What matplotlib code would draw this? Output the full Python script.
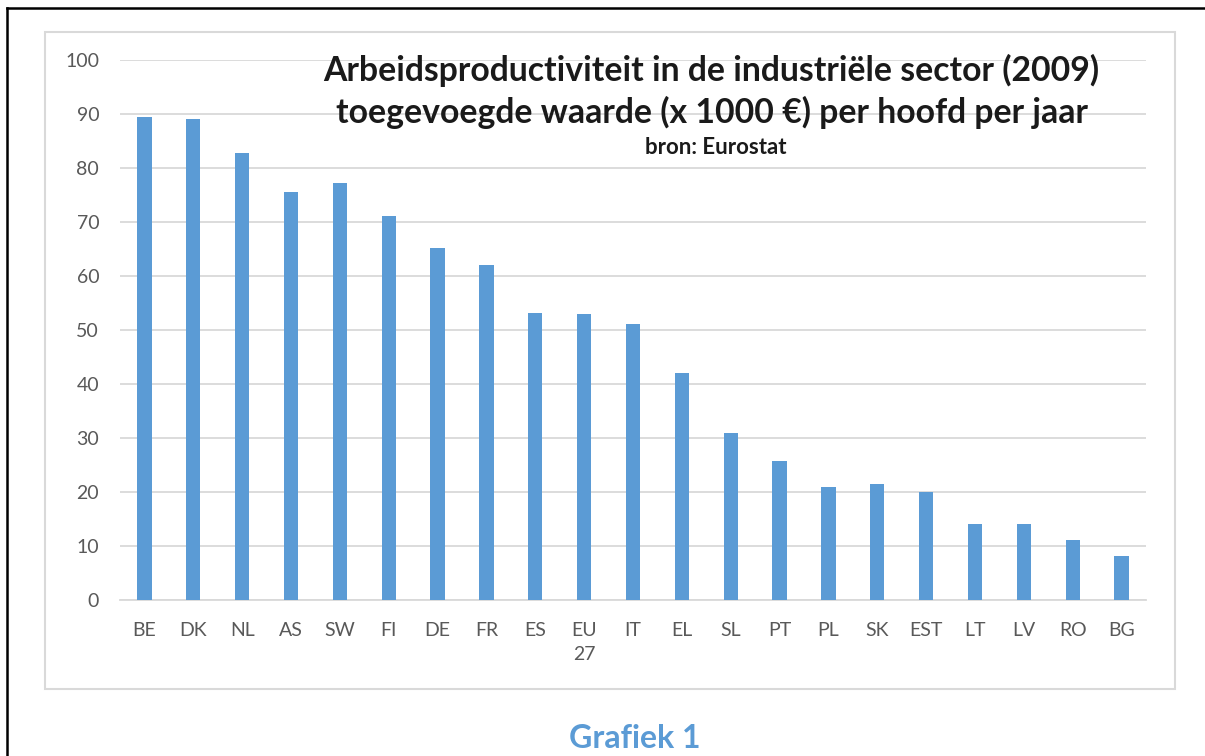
import matplotlib
matplotlib.use("Agg")
import matplotlib.pyplot as plt
from matplotlib.patches import Rectangle

countries = ["BE", "DK", "NL", "AS", "SW", "FI", "DE", "FR", "ES", "EU\n27", "IT",
             "EL", "SL", "PT", "PL", "SK", "EST", "LT", "LV", "RO", "BG"]
values = [89.4, 89.1, 82.8, 75.6, 77.2, 71.1, 65.2, 62.0, 53.1, 53.0, 51.1,
          42.0, 30.9, 25.7, 20.9, 21.5, 20.0, 14.0, 14.0, 11.1, 8.1]
yticks = [0, 10, 20, 30, 40, 50, 60, 70, 80, 90, 100]

title1 = "Arbeidsproductiviteit in de industriële sector (2009)"
title2 = "toegevoegde waarde (x 1000 €) per hoofd per jaar"
subtitle = "bron: Eurostat"
caption = "Grafiek 1"

W, H = 1205, 756
FONT = "Lato"
plt.rcParams["font.family"] = [FONT, "DejaVu Sans"]

fig = plt.figure(figsize=(W / 100, H / 100), dpi=100)
fig.patch.set_facecolor("white")

def fx(px):
    return px / W

def fy(py):
    return 1 - py / H

# outer black border (left and top visible)
fig.add_artist(plt.Line2D([fx(7), fx(7)], [fy(8), 0], color="black", lw=1.8,
                          transform=fig.transFigure))
fig.add_artist(plt.Line2D([fx(7), 1], [fy(8), fy(8)], color="black", lw=1.8,
                          transform=fig.transFigure))

# chart frame
fig.add_artist(Rectangle((fx(45), fy(689)), fx(1175) - fx(45), fy(32) - fy(689),
                         transform=fig.transFigure, fill=False,
                         edgecolor="#d9d9d9", lw=1.5))

ax = fig.add_axes([fx(120), fy(600), fx(1146) - fx(120), fy(60) - fy(600)])
x = list(range(len(countries)))
ax.bar(x, values, width=0.29, color="#5b9bd5", zorder=3)
ax.set_xlim(-0.5, len(countries) - 0.5)
ax.set_ylim(0, 100)
ax.set_yticks(yticks)
ax.set_yticklabels([str(t) for t in yticks])
ax.set_xticks(x)
ax.set_xticklabels(countries, linespacing=1.5)
ax.grid(axis="y", color="#d9d9d9", lw=1.3, zorder=0)
for s in ["top", "right", "left"]:
    ax.spines[s].set_visible(False)
ax.spines["bottom"].set_color("#d9d9d9")
ax.spines["bottom"].set_linewidth(1.3)
ax.tick_params(axis="both", length=0, labelsize=14, colors="#595959")
ax.tick_params(axis="y", pad=15)
ax.tick_params(axis="x", pad=16)
ax.set_facecolor("none")

fig.text(fx(711), fy(70), title1, ha="center", va="center", fontsize=24.3,
         fontweight="bold", color="#1a1a1a")
fig.text(fx(712), fy(112), title2, ha="center", va="center", fontsize=24.3,
         fontweight="bold", color="#1a1a1a")
fig.text(fx(716), fy(148), subtitle, ha="center", va="center", fontsize=16,
         fontweight="bold", color="#1a1a1a")
fig.text(fx(635), fy(738), caption, ha="center", va="center", fontsize=23,
         fontweight="bold", color="#5b9bd5")

fig.savefig("out.png", dpi=100, facecolor="white")
